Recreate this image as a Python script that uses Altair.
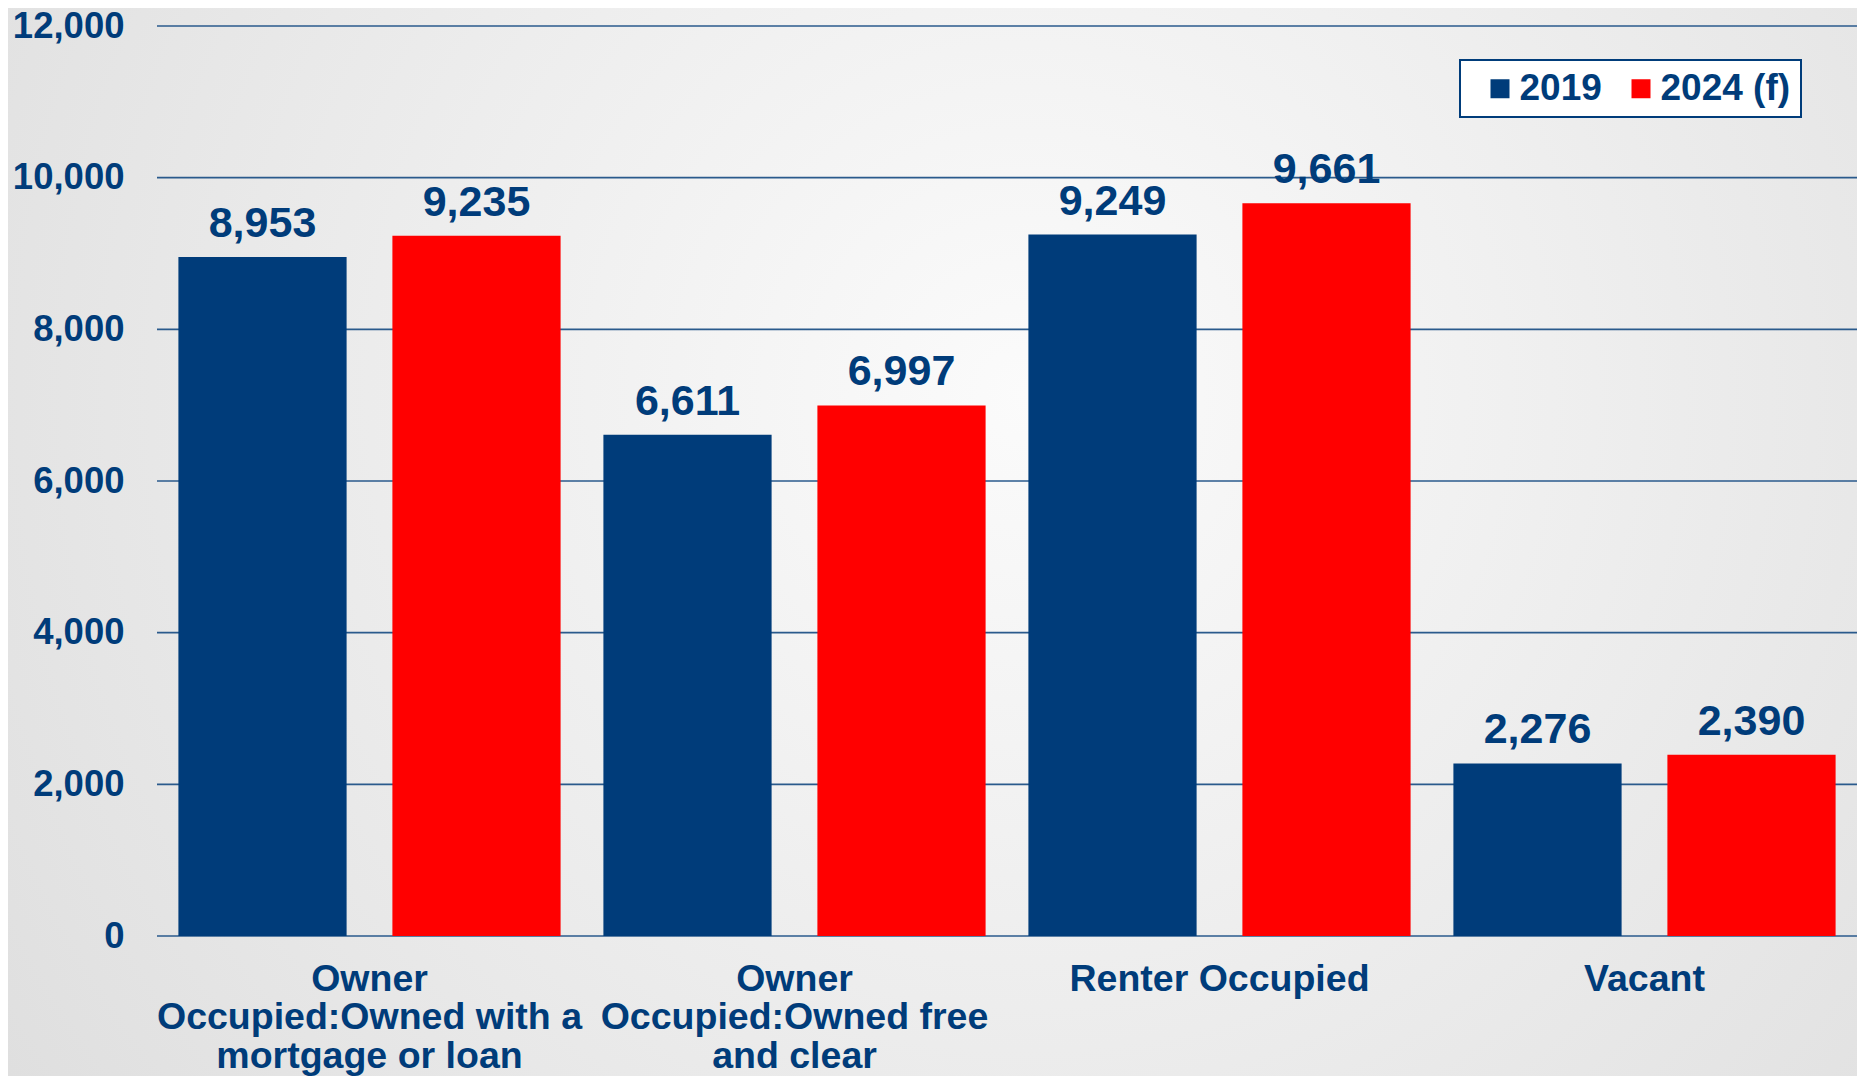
import altair as alt
import pandas as pd

categories = [
    "Owner\nOccupied:Owned with a\nmortgage or loan",
    "Owner\nOccupied:Owned free\nand clear",
    "Renter Occupied",
    "Vacant",
]
series = ["2019", "2024 (f)"]
values_2019 = [8953, 6611, 9249, 2276]
values_2024 = [9235, 6997, 9661, 2390]
y_ticks = [0, 2000, 4000, 6000, 8000, 10000, 12000]
colors = ["#003C7A", "#FF0000"]

BLUE = "#003C7A"
GRID = "#2A5A8C"
FONT = "Liberation Sans"

W, H = 1700, 910
PL, PT = 149, 18
TOTAL_H = 1068
PB = TOTAL_H - PT - H

rows = []
for c, a, b in zip(categories, values_2019, values_2024):
    rows.append({"cat": c, "series": series[0], "value": a})
    rows.append({"cat": c, "series": series[1], "value": b})
df = pd.DataFrame(rows)

yscale = alt.Scale(domain=[0, 12000], nice=False, zero=True)
yaxis = alt.Axis(
    values=y_ticks, format=",d", labelFont=FONT, labelFontSize=36.5,
    labelFontWeight="bold", labelColor=BLUE, labelPadding=33,
    ticks=False, domain=False, grid=False, zindex=1,
)

gradient = alt.RadialGradient(
    gradient="radial",
    x1=0.55, y1=0.42, x2=0.55, y2=0.42, r1=0, r2=0.78,
    stops=[alt.GradientStop(color="#fbfbfb", offset=0),
           alt.GradientStop(color="#dadada", offset=1)],
)

bg = alt.Chart(pd.DataFrame({"a": [0]})).mark_rect(color=gradient).encode(
    x=alt.value(-PL), x2=alt.value(W + 2), y=alt.value(-PT), y2=alt.value(H + PB)
)

grid = alt.Chart(pd.DataFrame({"value": y_ticks})).mark_rule(
    color=GRID, strokeWidth=1.6
).encode(
    y=alt.Y("value:Q", scale=yscale, axis=yaxis, title=None),
    x=alt.value(0), x2=alt.value(W),
)

xenc = alt.X(
    "cat:N", sort=categories, title=None,
    scale=alt.Scale(paddingInner=0, paddingOuter=0),
    axis=alt.Axis(
        labelExpr="split(datum.label, '\\n')",
        labelFont=FONT, labelFontSize=37.5, labelFontWeight="bold",
        labelColor=BLUE, labelLineHeight=38.5, labelPadding=24,
        labelLimit=600, labelAngle=0, ticks=False, domain=False,
        grid=False, zindex=1,
    ),
)
xoff = alt.XOffset("series:N", sort=series,
                   scale=alt.Scale(paddingInner=0.214, paddingOuter=0.1))
yenc = alt.Y("value:Q", scale=yscale, title=None, axis=yaxis)

bars = alt.Chart(df).mark_bar().encode(
    x=xenc, xOffset=xoff, y=yenc,
    color=alt.Color(
        "series:N", sort=series,
        scale=alt.Scale(domain=series, range=colors),
        legend=alt.Legend(
            title=None, orient="none", legendX=1303, legendY=34,
            direction="horizontal", symbolType="square", symbolSize=361,
            symbolStrokeWidth=0, labelFont=FONT, labelFontSize=37,
            labelFontWeight="bold", labelColor=BLUE, labelOffset=1,
            strokeColor=BLUE, fillColor="white", padding=10,
            symbolOffset=11.5, columnPadding=9, zindex=1,
        ),
    ),
)

text = alt.Chart(df).mark_text(
    font=FONT, fontSize=43, fontWeight="bold", color=BLUE,
    baseline="alphabetic", dy=-20,
).encode(
    x=alt.X("cat:N", sort=categories),
    xOffset=alt.XOffset("series:N", sort=series),
    y=alt.Y("value:Q"),
    text=alt.Text("value:Q", format=","),
)

chart = alt.layer(bg, grid, bars, text).properties(
    width=W, height=H,
    autosize=alt.AutoSizeParams(type="none"),
    padding={"left": PL, "top": PT, "right": 0, "bottom": PB},
).configure(background="#e6e6e6").configure_view(
    stroke=None
).configure_legend(strokeWidth=2)

chart.save("out.html", embed_options={"renderer": "svg", "actions": False})
